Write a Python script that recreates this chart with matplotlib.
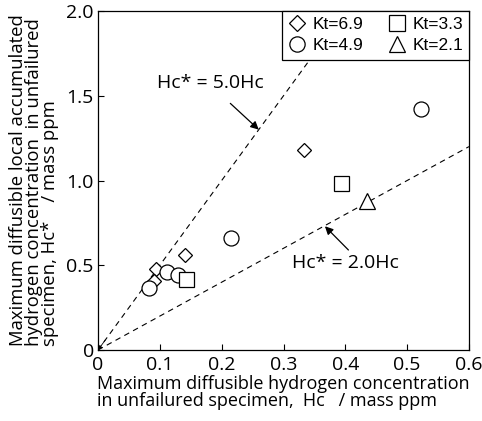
import matplotlib
matplotlib.use("Agg")
import matplotlib.pyplot as plt
from matplotlib.lines import Line2D

# Data
kt69_x = [0.333, 0.140, 0.093, 0.090]
kt69_y = [1.18, 0.56, 0.476, 0.41]
kt49_x = [0.522, 0.215, 0.083, 0.112, 0.130]
kt49_y = [1.42, 0.66, 0.364, 0.458, 0.44]
kt33_x = [0.393, 0.143]
kt33_y = [0.983, 0.417]
kt21_x = [0.435]
kt21_y = [0.88]
ratio_lines = [5.0, 2.0]
x_ticks = [0, 0.1, 0.2, 0.3, 0.4, 0.5, 0.6]
x_ticklabels = ["0", "0.1", "0.2", "0.3", "0.4", "0.5", "0.6"]
y_ticks = [0, 0.5, 1.0, 1.5, 2.0]
y_ticklabels = ["0", "0.5", "1.0", "1.5", "2.0"]

plt.rcParams['font.family'] = ['Open Sans', 'DejaVu Sans']

fig = plt.figure(figsize=(4.82, 4.21), dpi=100)
ax = fig.add_axes([98/482, 1-350/421, (469-98)/482, (350-11)/421])

ax.set_xlim(0, 0.6)
ax.set_ylim(0, 2.0)

# reference lines
xs = [0, 0.6]
for r in ratio_lines:
    ax.plot(xs, [r*v for v in xs], color='black', lw=0.8, ls=(0, (5, 4)), zorder=1)

mk = dict(linestyle='none', markerfacecolor='white', markeredgecolor='black',
          markeredgewidth=0.9, zorder=3)
ax.plot(kt69_x, kt69_y, marker='D', markersize=7.3, **mk)
ax.plot(kt49_x, kt49_y, marker='o', markersize=10.8, **mk)
ax.plot(kt33_x, kt33_y, marker='s', markersize=10.8, **mk)
ax.plot(kt21_x, kt21_y, marker='^', markersize=11, **mk)

# annotations
ap = dict(arrowstyle='-|>', lw=0.9, color='black', mutation_scale=12, shrinkA=0, shrinkB=0)
ax.text(0.181, 1.575, "Hc* = 5.0Hc", ha='center', va='center', fontsize=14)
ax.annotate("", xy=(0.26, 1.30), xytext=(0.214, 1.455), arrowprops=ap)
ax.text(0.40, 0.513, "Hc* = 2.0Hc", ha='center', va='center', fontsize=14)
ax.annotate("", xy=(0.367, 0.73), xytext=(0.405, 0.59), arrowprops=ap)
# small arrowhead at origin
ax.annotate("", xy=(0.0, 0.0), xytext=(0.012, 0.06),
            arrowprops=dict(arrowstyle='-|>', lw=0.6, color='black', mutation_scale=6, shrinkA=0, shrinkB=0))

ax.set_xticks(x_ticks)
ax.set_xticklabels(x_ticklabels)
ax.set_yticks(y_ticks)
ax.set_yticklabels(y_ticklabels)
ax.tick_params(direction='in', length=4, width=0.8, labelsize=14)
ax.tick_params(axis='x', pad=4)
ax.tick_params(axis='y', pad=3)
for s in ax.spines.values():
    s.set_linewidth(0.9)

ax.set_xlabel("Maximum diffusible hydrogen concentration\nin unfailured specimen,  Hc   / mass ppm",
              fontsize=13, multialignment='left', labelpad=1, linespacing=0.9)
ax.set_ylabel("Maximum diffusible local accumulated\nhydrogen concentration  in unfailured\nspecimen, Hc*    / mass ppm",
              fontsize=13.3, multialignment='left', labelpad=5, linespacing=0.88)

hmk = dict(linestyle='none', markerfacecolor='white', markeredgecolor='black', markeredgewidth=0.9)
handles = [Line2D([], [], marker='D', markersize=8, **hmk),
           Line2D([], [], marker='o', markersize=11, **hmk),
           Line2D([], [], marker='s', markersize=11, **hmk),
           Line2D([], [], marker='^', markersize=11, **hmk)]
labels = ["Kt=6.9", "Kt=4.9", "Kt=3.3", "Kt=2.1"]
leg = ax.legend(handles, labels, loc='upper right', ncol=2, fancybox=False,
                framealpha=1, edgecolor='black', handlelength=1.0, handletextpad=0.4,
                columnspacing=1.4, borderaxespad=0, borderpad=0.35, labelspacing=0.35,
                prop={'family': 'Liberation Sans', 'size': 12.5})
leg.get_frame().set_linewidth(0.9)

fig.savefig("out.png", dpi=100)
